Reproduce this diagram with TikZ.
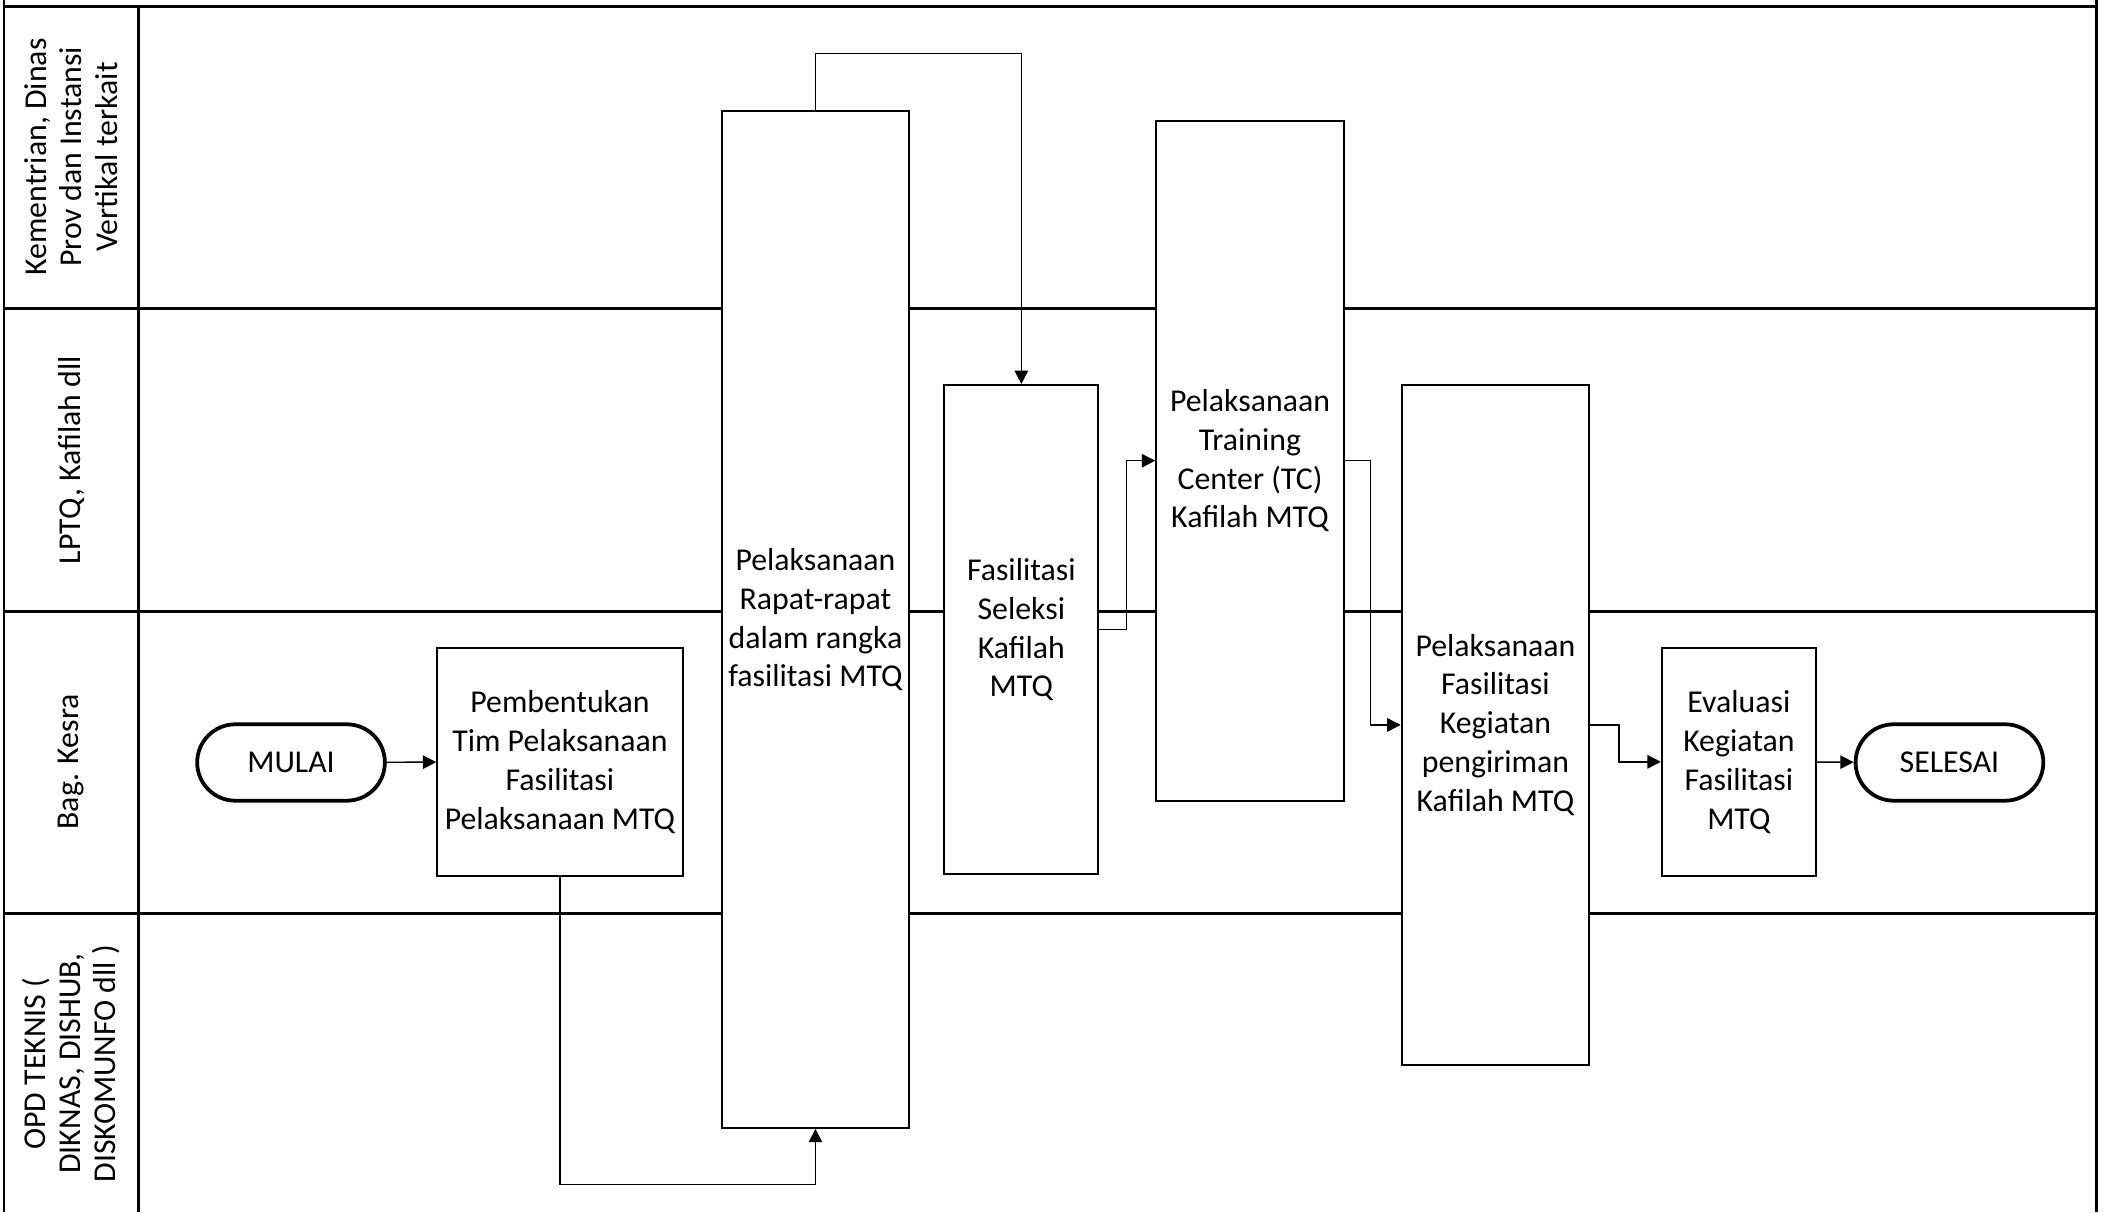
\documentclass[tikz,border=0pt]{standalone}
\usepackage{fontspec}
\setmainfont{Carlito}
\usetikzlibrary{arrows.meta,positioning,calc}

\begin{document}
\begin{tikzpicture}[
  x=0.02cm, y=-0.02cm,
  >={Triangle[length=2mm,width=2mm]},
  every node/.style={align=center, font=\fontsize{13.5}{16.5}\selectfont},
  lanerule/.style = {line width=1.2pt},
  base/.style     = {draw, fill=white, inner sep=2pt, line width=0.8pt},
  proc/.style     = {base, minimum width=2.80cm},
  narrow/.style   = {base, minimum width=2.30cm},
  term/.style     = {draw, fill=white, line width=1.6pt, rounded corners=0.57cm,
                     minimum width=2.80cm, minimum height=1.14cm},
  lanelbl/.style  = {rotate=90, font=\fontsize{13.5}{15}\selectfont},
  flow/.style     = {->, line width=0.6pt}
]
\useasboundingbox (0,0) rectangle (1568,904);

% swimlanes
\draw[lanerule] (3,0) -- (3,904);
\draw[lanerule] (1563,0) -- (1563,904);
\draw[lanerule] (3,5) -- (1563,5);
\foreach \yy in {230,456,681}
  \draw[lanerule] (3,\yy) -- (1563,\yy);
\draw[lanerule] (103,5) -- (103,904);

\node[lanelbl] (laneKem) at (53,117) {Kementrian, Dinas\\Prov dan Instansi\\Vertikal terkait};
\node[lanelbl] (laneLptq) at (53,343) {LPTQ, Kafilah dll};
\node[lanelbl] (laneKesra) at (53,568) {Bag. Kesra};
\node[lanelbl] (laneOpd) at (53,793) {OPD TEKNIS (\\DIKNAS, DISHUB,\\DISKOMUNFO dll )};

% steps
\node[term] (mulai) at (217,568.5) {MULAI};
\node[base, minimum width=3.66cm, minimum height=3.40cm] (bentuk) at (417.5,568)
  {Pembentukan\\Tim Pelaksanaan\\Fasilitasi\\Pelaksanaan MTQ};
\node[proc, minimum height=15.16cm] (rapat) at (608,462)
  {Pelaksanaan\\Rapat-rapat\\dalam rangka\\fasilitasi MTQ};
\node[narrow, minimum height=7.30cm] (seleksi) at (761.5,469.5)
  {Fasilitasi\\Seleksi\\Kafilah\\MTQ};
\node[proc, minimum height=10.14cm] (tc) at (932,343.5)
  {Pelaksanaan\\Training\\Center (TC)\\Kafilah MTQ};
\node[proc, minimum height=10.14cm] (kirim) at (1115,540.5)
  {Pelaksanaan\\Fasilitasi\\Kegiatan\\pengiriman\\Kafilah MTQ};
\node[narrow, minimum height=3.40cm] (evaluasi) at (1296.5,568)
  {Evaluasi\\Kegiatan\\Fasilitasi\\MTQ};
\node[term] (selesai) at (1453.5,568.5) {SELESAI};

% flow
\draw[flow] (mulai) -- (bentuk);
\coordinate (bentukDrop) at (417.5,883);
\draw[flow] (bentuk.south) -- (bentukDrop) -| (rapat.south);
\coordinate (rapatRise) at (608,40);
\draw[flow] (rapat.north) -- (rapatRise) -| (seleksi.north);
\coordinate (seleksiJog) at (840,469.5);
\draw[flow] (seleksi.east) -- (seleksiJog) |- (tc.west);
\coordinate (tcJog) at (1022,343.5);
\draw[flow] (tc.east) -- (tcJog) |- (kirim.west);
\coordinate (kirimJog) at (1207,540.5);
\draw[flow] (kirim.east) -- (kirimJog) |- (evaluasi.west);
\draw[flow] (evaluasi) -- (selesai);
\end{tikzpicture}
\end{document}
